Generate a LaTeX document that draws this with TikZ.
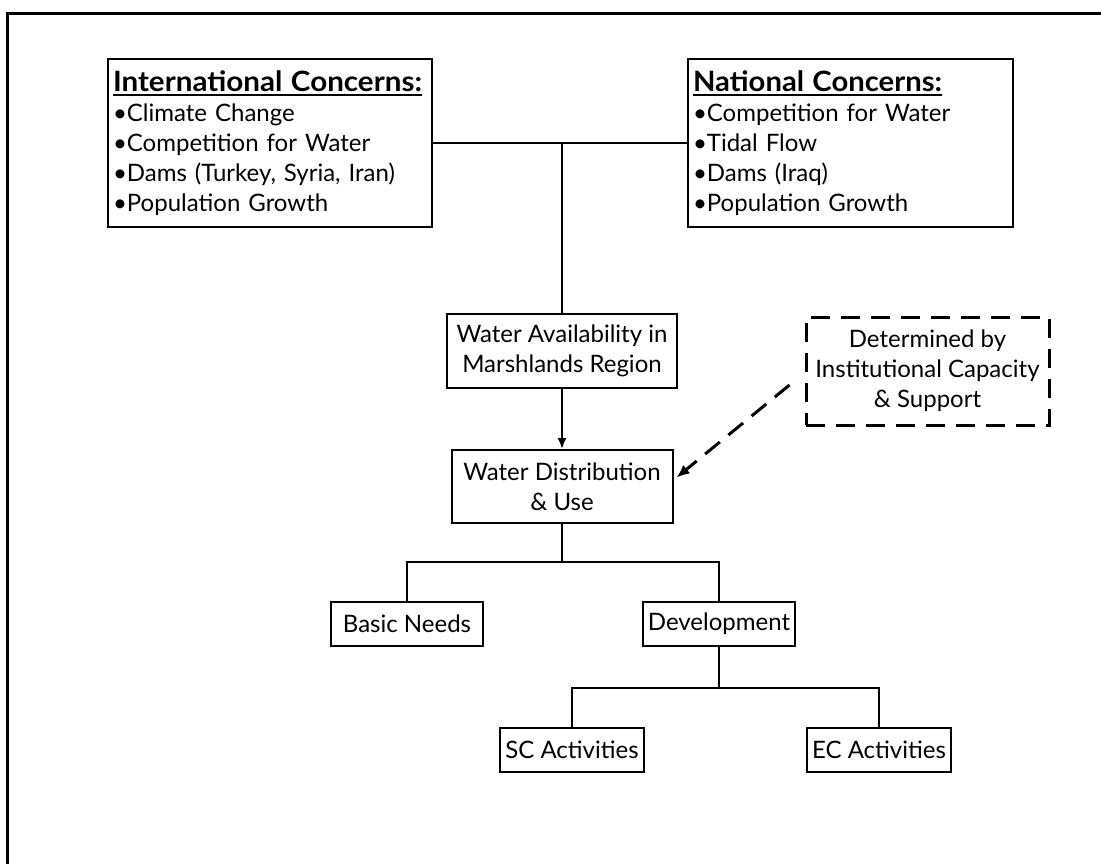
\documentclass[tikz,border=0pt]{standalone}
\usepackage{fontspec}
\setmainfont{Lato}
\usetikzlibrary{arrows.meta,calc}
% heading underline: a 2pt rule a little below the baseline
\newcommand{\headrule}[1]{\leavevmode\setbox0\hbox{#1}\rlap{\vrule height -3pt depth 5pt width \wd0}\box0}
% bold heading, set a size up and stretched to a given width
\newcommand{\heading}[2]{\headrule{\resizebox{#1}{\height}{\fontsize{28}{30}\selectfont\bfseries #2}}}
\begin{document}
\begin{tikzpicture}[x=1pt,y=-1pt,
  box/.style={draw, line width=2pt, font=\fontsize{24}{30}\selectfont, inner sep=0pt, align=center},
  listbox/.style={box, align=left, inner xsep=5pt, text width=#1},
  dashbox/.style={box, line width=3pt, dash pattern=on 19pt off 11pt},
  link/.style={line width=2pt},
  arrowlink/.style={link, -{Latex[length=11pt,width=9pt]}},
  dasharrow/.style={line width=3pt, dash pattern=on 19pt off 11pt, -{Latex[length=13pt,width=11pt]}}
]
\useasboundingbox (0,0) rectangle (1101,864);
% slide frame
\draw[line width=3pt, line join=miter] (7,864) -- (7,14) -- (1101,14);

% concern boxes
\node[listbox=314pt, minimum width=324pt, minimum height=168pt] (intl) at (270,143)
  {\heading{309pt}{International Concerns:}\\
   •Climate Change\\
   •Competition for Water\\
   •Dams (Turkey, Syria, Iran)\\
   •Population Growth};
\node[listbox=315pt, minimum width=325pt, minimum height=168pt] (natl) at (850.5,143)
  {\heading{249pt}{National Concerns:}\\
   •Competition for Water\\
   •Tidal Flow\\
   •Dams (Iraq)\\
   •Population Growth};

% flow boxes
\node[box, minimum width=230pt, minimum height=74pt] (wa) at (562,351)
  {Water Availability in\\Marshlands Region};
\node[box, minimum width=221pt, minimum height=73pt] (wd) at (562,486.5)
  {Water Distribution\\\& Use};
\node[dashbox, minimum width=243pt, minimum height=108pt] (det) at (927.5,371)
  {Determined by\\Institutional Capacity\\\& Support};
\node[box, minimum width=152pt, minimum height=44pt] (bn) at (407,624) {Basic Needs};
\node[box, minimum width=152pt, minimum height=44pt] (dev) at (719,624) {Development};
\node[box, minimum width=144pt, minimum height=44pt] (sc) at (572,750) {SC Activities};
\node[box, minimum width=144pt, minimum height=44pt] (ec) at (879,750) {EC Activities};

% junction points of the tree
\coordinate (j1) at (562,562);
\coordinate (j2) at (719,688);

% connectors
\draw[link] (intl.east) -- (natl.west);
\draw[link] (wa.north) -- (wa.north |- intl.east);
\draw[arrowlink] (wa.south) -- (wd.north);
\draw[dasharrow] ($(det.west)+(-15,14)$) -- ($(wd.east)+(3,-9)$);
\draw[link] (wd.south) -- (j1);
\draw[link] (bn.north) |- (j1) -| (dev.north);
\draw[link] (dev.south) -- (j2);
\draw[link] (sc.north) |- (j2) -| (ec.north);
\end{tikzpicture}
\end{document}
